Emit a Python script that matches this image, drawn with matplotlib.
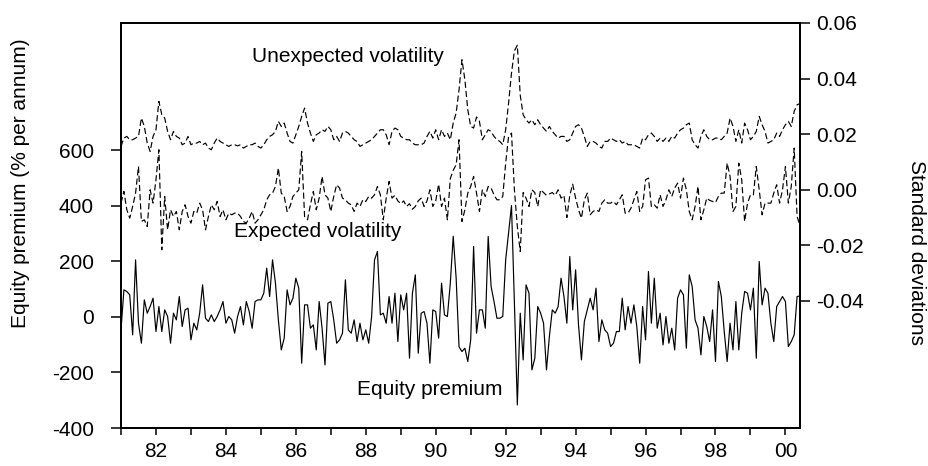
import numpy as np
import matplotlib
matplotlib.use('Agg')
from matplotlib import pyplot as plt
from matplotlib.ticker import FixedLocator, FuncFormatter

# monthly data, 1981:01 onwards
start_year = 1981

# equity premium (% per annum), left axis
equity_premium = [
    -47, 97, 91, 79, -65, 205, -23, -95, 61, 13, 37, 67, -53, 37, -53, 25, 1, -95, 13, -11,
    73, -35, 25, 31, -83, -23, -47, 13, 115, -5, -17, 7, -17, 1, 25, 55, -23, 1, -11, -59,
    1, 37, -29, 55, 19, -41, 55, 61, 61, 85, 175, 73, 205, 121, -11, -119, -77, 97, 43, 67,
    139, 103, -167, 43, 43, -41, -29, -119, 55, -41, -173, 49, 55, -11, -95, -83, -59, 133, -47,
    -59, -11, -89, -23, -83, -47, -95, 1, 205, 235, 7, 13, -23, 73, -23, 85, -89, 79, 25, 85,
    -149, 85, 151, -131, 13, 19, -23, -167, 25, 19, -77, 121, 7, 1, 121, 290, 140, -108, -125,
    -113, -161, -83, 253, -59, 25, 25, -41, 289, 109, 55, -5, -5, 1, 205, 301, 400, 49, -317, 13,
    -155, 115, 85, -191, -149, 37, 13, -23, -191, -71, 25, 13, 37, 139, 73, -23, 217, 25, 169,
    -30, -155, -17, 25, 67, 25, 103, -89, -11, -47, -59, -107, -95, -53, -53, 67, -47, 37, -23, 43,
    -35, -167, 37, -83, 163, -23, 139, -41, 13, -101, 1, -95, -41, -119, 67, 97, 79, -113, 151,
    109, -11, -41, -137, 1, -35, -89, 25, -161, 127, 73, -53, -161, -23, -119, 55, -119, 13, 91, 85,
    25, 103, -149, 199, 43, 103, 85, -23, -89, 37, 55, 73, 55, -107, -89, -65, 73, 75,
]

# unexpected volatility (standard deviations), right axis
unexpected_vol = [
    0.0156, 0.0186, 0.0192, 0.018, 0.018, 0.0186, 0.0192, 0.0258, 0.0228, 0.0168,
    0.0138, 0.0192, 0.0216, 0.0318, 0.027, 0.0258, 0.021, 0.018, 0.021, 0.0192,
    0.0186, 0.0162, 0.0168, 0.0192, 0.0162, 0.0168, 0.0168, 0.0174, 0.0162, 0.0168,
    0.015, 0.0144, 0.0168, 0.0186, 0.0174, 0.0168, 0.0162, 0.0156, 0.0162, 0.0162,
    0.0158, 0.0162, 0.015, 0.0156, 0.0162, 0.0162, 0.0168, 0.0156, 0.015, 0.0162,
    0.018, 0.0192, 0.0198, 0.021, 0.0246, 0.0228, 0.024, 0.0204, 0.0174, 0.0168,
    0.0198, 0.0228, 0.0264, 0.0294, 0.024, 0.0204, 0.0174, 0.0198, 0.0204, 0.0216,
    0.021, 0.0228, 0.0216, 0.018, 0.0192, 0.0174, 0.0204, 0.021, 0.0204,
    0.0192, 0.018, 0.0174, 0.0156, 0.0162, 0.0168, 0.0174, 0.018, 0.0192, 0.0204,
    0.0216, 0.0216, 0.0198, 0.0162, 0.021, 0.0222, 0.0216, 0.0192, 0.0186, 0.018,
    0.018, 0.0168, 0.0162, 0.0162, 0.0162, 0.0168, 0.0192, 0.021, 0.0186, 0.0216,
    0.018, 0.0216, 0.0192, 0.0204, 0.018, 0.024, 0.0276, 0.036, 0.0468,
    0.0396, 0.0288, 0.0228, 0.0222, 0.0262, 0.0246, 0.018, 0.0198, 0.0216, 0.021,
    0.0192, 0.018, 0.0174, 0.0162, 0.0216, 0.0312, 0.042, 0.050, 0.052, 0.034,
    0.027, 0.0252, 0.024, 0.0252, 0.0234, 0.0252, 0.0234, 0.0222, 0.021, 0.0228,
    0.021, 0.0198, 0.0186, 0.0192, 0.0192, 0.0174, 0.018, 0.0204, 0.0228,
    0.0234, 0.0222, 0.0192, 0.0156, 0.0174, 0.0174, 0.0168, 0.0156, 0.015, 0.0174,
    0.0174, 0.0186, 0.018, 0.0174, 0.018, 0.0168, 0.0174, 0.0162, 0.0162, 0.0162,
    0.0156, 0.015, 0.0186, 0.018, 0.0198, 0.0204, 0.0192, 0.0174, 0.0186, 0.0174,
    0.0186, 0.0174, 0.0192, 0.0186, 0.0204, 0.0216, 0.0222, 0.0234, 0.024,
    0.018, 0.0162, 0.015, 0.0192, 0.0216, 0.0192, 0.018, 0.018, 0.0186, 0.0186,
    0.018, 0.0192, 0.0204, 0.0258, 0.0228, 0.0174, 0.0216, 0.0168, 0.024, 0.0216,
    0.018, 0.0192, 0.021, 0.0264, 0.0234, 0.021, 0.0168, 0.0174, 0.018, 0.0204,
    0.0192, 0.0216, 0.0234, 0.0246, 0.0228, 0.0282, 0.0306, 0.031,
]

# expected volatility (standard deviations), right axis
expected_vol = [
    -0.0048, -0.0006, -0.0072, -0.0102, -0.006, -0.0012, 0.0084, -0.0114, -0.0108, -0.0132,
    0.0, -0.0048, 0.0036, 0.0144, -0.0216, -0.0024, -0.0144, -0.0072, -0.0096, -0.0078,
    -0.0144, -0.0078, -0.0054, -0.0096, -0.012, -0.0078, -0.0084, -0.0048, -0.0072, -0.0144,
    -0.0096, -0.0054, -0.0072, -0.0042, -0.0096, -0.0072, -0.0108, -0.0084, -0.009, -0.0084,
    -0.0084, -0.0096, -0.0114, -0.012, -0.0102, -0.0078, -0.012, -0.0108, -0.009, -0.0072,
    -0.0036, -0.0018, -0.0012, 0.0012, 0.0078, -0.0012, -0.0024, -0.0078, -0.006, -0.0024,
    -0.0012, 0.0, 0.0138, -0.0096, -0.0108, -0.0054, -0.0006, -0.0072, -0.003, 0.0048,
    -0.0018, -0.003, -0.0078, -0.0024, 0.0018, 0.0006, -0.003, -0.0036, -0.0048,
    -0.0054, -0.0078, -0.0048, -0.006, -0.0036, -0.0042, -0.0024, -0.003, -0.0018, 0.0012,
    -0.0018, -0.0108, -0.003, 0.003, -0.003, -0.002, -0.004, -0.005, -0.004, -0.006,
    -0.005, -0.007, -0.006, -0.004, -0.003, -0.006, -0.004, 0.0, -0.006, -0.004,
    0.002, -0.006, -0.003, -0.0108, 0.004, 0.007, 0.009, 0.018, -0.0114,
    -0.0072, -0.0012, 0.0012, 0.0048, -0.0012, -0.0078, 0.0, -0.0024, 0.0012, 0.0006,
    -0.0018, -0.0036, -0.0036, -0.0024, 0.0096, 0.0192, 0.0204, 0.0, -0.0132, -0.0222,
    -0.001, -0.003, -0.006, 0.0, -0.001, -0.006, 0.0, -0.001, -0.002, -0.0015,
    -0.001, -0.002, 0.0, -0.003, -0.002, -0.010, -0.002, 0.002, -0.003,
    -0.0072, -0.0102, -0.0036, -0.0012, -0.009, -0.0078, -0.0072, -0.0078, -0.0048, -0.0036,
    -0.0048, -0.0048, -0.0042, -0.0054, -0.0036, -0.0018, -0.0084, -0.0084, -0.0066, -0.0036,
    -0.0006, -0.0078, -0.006, 0.0036, 0.0042, -0.006, -0.0054, -0.0066, -0.0018, -0.006,
    -0.0036, 0.0, -0.0024, 0.0006, 0.0024, -0.003, 0.0042, 0.0, -0.0078,
    -0.0108, -0.006, 0.0012, -0.0108, -0.0072, -0.003, -0.0038, -0.0042, -0.0046, -0.0024,
    -0.0012, -0.0012, 0.0096, 0.0048, -0.0078, -0.006, 0.0096, 0.0036, -0.0114, -0.0048,
    -0.0018, -0.0018, 0.0084, 0.0, -0.009, -0.0048, -0.0048, -0.0048, -0.0012, 0.0018,
    -0.0048, 0.0, 0.0084, -0.0048, 0.0012, 0.015, -0.0096, -0.013,
]

left_ticks = [-400, -200, 0, 200, 400, 600]
right_ticks = [-0.04, -0.02, 0.00, 0.02, 0.04, 0.06]

plt.rcParams['font.family'] = ['Liberation Sans', 'DejaVu Sans']
plt.rcParams['font.size'] = 15
plt.rcParams['axes.unicode_minus'] = False

n = len(equity_premium)
t = start_year + np.arange(n) / 12.0

fig = plt.figure(figsize=(9.29, 4.66), dpi=100)
ax = fig.add_axes([121 / 929, 1 - 428 / 466, 679 / 929, 405 / 466])
ax2 = ax.twinx()

ax.plot(t, equity_premium, color='black', lw=0.85)
# dashed volatility lines, a bit longer dashes like the original
ax2.plot(t, unexpected_vol, color='black', lw=0.85, dashes=(5.2, 2.6))
ax2.plot(t, expected_vol, color='black', lw=0.85, dashes=(5.2, 2.6))

ax.set_xlim(t[0], t[-1])
ax.set_ylim(-400, 1057)
ax2.set_ylim(-0.0857, 0.06)

years = list(range(1981, 2001))
ax.xaxis.set_major_locator(FixedLocator(years))
ax.xaxis.set_major_formatter(FuncFormatter(
    lambda v, p: '%02d' % (int(round(v)) % 100) if int(round(v)) % 2 == 0 else ''))
ax.yaxis.set_major_locator(FixedLocator(left_ticks))
ax.yaxis.set_major_formatter(FuncFormatter(lambda v, p: '%d' % v))
ax2.yaxis.set_major_locator(FixedLocator(right_ticks))
ax2.yaxis.set_major_formatter(FuncFormatter(lambda v, p: '%.2f' % v))

ax.tick_params(axis='x', direction='out', length=5, width=1.1, pad=5)
ax.tick_params(axis='y', direction='out', length=7.5, width=1.1, pad=12)
ax2.tick_params(axis='y', direction='out', length=7.5, width=1.1, pad=4)

for a in (ax, ax2):
    for s in a.spines.values():
        s.set_linewidth(1.3)

fig.text(21 / 929, 1 - 183 / 466, 'Equity premium (% per annum)',
         rotation=90, ha='center', va='center')
fig.text(917 / 929, 1 - 253 / 466, 'Standard deviations',
         rotation=270, ha='center', va='center')

ax.text((252 - 121) / 679, (428 - 61.5) / 405, 'Unexpected volatility',
        transform=ax.transAxes, ha='left', va='baseline')
ax.text((234 - 121) / 679, (428 - 237) / 405, 'Expected volatility',
        transform=ax.transAxes, ha='left', va='baseline')
ax.text((357 - 121) / 679, (428 - 395) / 405, 'Equity premium',
        transform=ax.transAxes, ha='left', va='baseline')

fig.savefig('out.png', dpi=100)
